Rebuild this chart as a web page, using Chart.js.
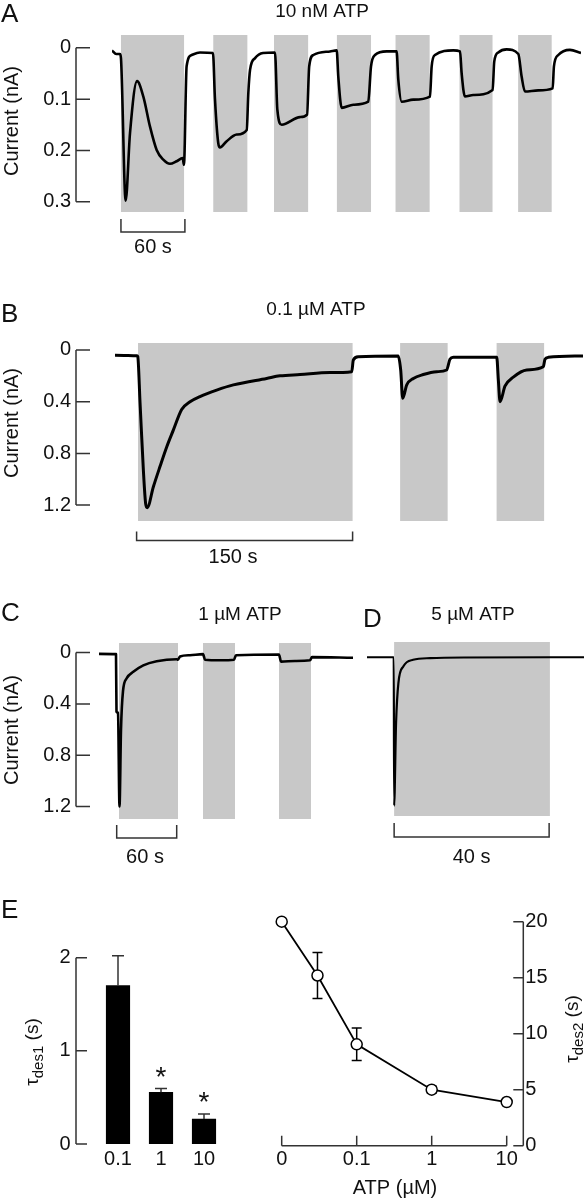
<!DOCTYPE html>
<html>
<head>
<meta charset="utf-8">
<script src="https://cdn.jsdelivr.net/npm/chart.js@4.4.1/dist/chart.umd.min.js"></script>
<style>
html, body { margin: 0; padding: 0; background: #fff; }
#fig { position: relative; width: 585px; height: 1199px; overflow: hidden; background: #fff; }
#fig canvas { position: absolute; display: block; }
</style>
</head>
<body>
<div id="fig">
  <canvas id="cA" width="585" height="265" style="left:0;top:0"></canvas>
  <canvas id="cB" width="585" height="310" style="left:0;top:265px"></canvas>
  <canvas id="cC" width="360" height="305" style="left:0;top:575px"></canvas>
  <canvas id="cD" width="225" height="305" style="left:360px;top:575px"></canvas>
  <canvas id="cE1" width="260" height="319" style="left:0;top:880px"></canvas>
  <canvas id="cE2" width="325" height="319" style="left:260px;top:880px"></canvas>
</div>
<script>
// ---- A: 10 nM ATP (time in s, current in nA, inward drawn downward)
const tA = [0, 4, 7.5, 8.4, 12.8, 16.9, 23.5, 29.4, 35.6, 41.9, 48.1, 54.4, 60.7, 66.3, 67.5,
  70, 74.8, 82.5, 94.7, 96.6, 99.7, 101.3, 107.6, 117, 126.4, 127.9, 129.5, 134.2, 141.7, 152.9,
  155.1, 159.2, 176.4, 183, 185, 188.9, 204.5, 210.8, 212.3, 215.5, 226.4, 240.4, 243, 246.7, 257.7,
  267, 268.6, 271.8, 282.6, 298.3, 299.9, 303, 320.2, 326.5, 328, 331.1, 338.9, 357.1, 358.6, 362.4,
  370.3, 381.2, 384.3, 387.4, 399.9, 413.4, 414.6, 418.7, 429.6, 440];
const iA = [0.005, 0.012, 0.012, 0.02, 0.298, 0.166, 0.065, 0.095, 0.153, 0.199, 0.218, 0.226, 0.221, 0.215, 0.228,
  0.036, 0.014, 0.009, 0.01, 0.1, 0.186, 0.194, 0.182, 0.169, 0.16, 0.088, 0.043, 0.02, 0.01, 0.009,
  0.12, 0.15, 0.135, 0.13, 0.036, 0.014, 0.007, 0.005, 0.056, 0.117, 0.111, 0.105, 0.036, 0.014, 0.007,
  0.007, 0.062, 0.105, 0.101, 0.095, 0.036, 0.014, 0.005, 0.007, 0.049, 0.095, 0.092, 0.082, 0.027, 0.009,
  0.003, 0.012, 0.056, 0.085, 0.083, 0.079, 0.036, 0.014, 0.004, 0.01];
const appA = [[8.4, 67.6], [95, 127], [152, 184], [211, 243], [266, 298], [326, 357], [381, 412.5]];
const ticksA = [0, 0.1, 0.2, 0.3];
const tickLabelsA = ['0', '0.1', '0.2', '0.3'];

// ---- B: 0.1 uM ATP
const tB = [0, 15.3, 15.8, 17.4, 19.7, 21.3, 22.4, 26.6, 31.3, 35.9, 40.5, 46.3, 52.1, 59, 70.6,
  82.2, 105.3, 114.6, 128.5, 149.3, 164.4, 165.5, 169, 196.7, 198.4, 199.8, 202.6, 207.2, 214.1, 223.4,
  230.3, 232.6, 235, 265.1, 266.2, 267.4, 270.8, 276.6, 285.9, 297.4, 298.6, 300.9, 325];
const iB = [0.04, 0.045, 0.05, 0.41, 0.93, 1.19, 1.22, 1.06, 0.9, 0.75, 0.62, 0.46, 0.4, 0.36, 0.31,
  0.27, 0.22, 0.2, 0.19, 0.175, 0.168, 0.077, 0.052, 0.046, 0.155, 0.374, 0.27, 0.22, 0.19, 0.168,
  0.155, 0.072, 0.057, 0.057, 0.23, 0.4, 0.28, 0.21, 0.155, 0.13, 0.072, 0.057, 0.046];
const appB = [[16, 165], [198, 231], [265, 298]];
const ticksBC = [0, 0.4, 0.8, 1.2];
const tickLabelsBC = ['0', '0.4', '0.8', '1.2'];

// ---- C: 1 uM ATP
const tC = [0, 17, 17.5, 19, 20.5, 22, 24, 27.7, 34.3, 44.3, 57.7, 77.7, 79, 81, 91, 104, 106, 121, 135, 137,
  180, 182, 196, 211, 213, 254];
const iC = [0.01, 0.012, 0.46, 0.47, 1.2, 0.6, 0.3, 0.2, 0.15, 0.1, 0.068, 0.052, 0.055, 0.03, 0.02, 0.012, 0.055, 0.06, 0.055, 0.02,
  0.015, 0.07, 0.065, 0.06, 0.035, 0.04];
const appC = [[20, 79], [104, 136], [180, 212]];

// ---- D: 5 uM ATP
const tD = [0, 6.9, 7.0, 7.5, 8.1, 9.4, 11.9, 16.3, 25, 56];
const iD = [0.04, 0.04, 1.19, 0.55, 0.24, 0.11, 0.06, 0.047, 0.042, 0.04];
const appD = [[7, 47.2]];

// ---- E left: tau des1 (s)
const doses = ['0.1', '1', '10'];
const tau1 = [1.7, 0.555, 0.268];
const tau1Err = [0.32, 0.04, 0.054];
const tau1Star = [false, true, true];
const ticksE1 = [0, 1, 2];

// ---- E right: tau des2 (s) vs ATP (uM); 0 uM is placed at 0.01 on the log axis
const conc = [0, 0.03, 0.1, 1, 10];
const tau2 = [20, 15.2, 9.05, 5.0, 3.9];
const tau2Err = [0, 2.05, 1.45, 0.3, 0];
const ZERO_AT = 0.01;
const concTicks = [0, 0.1, 1, 10];
const concTickLabels = ['0', '0.1', '1', '10'];
const ticksE2 = [0, 5, 10, 15, 20];

const FONT = '"Liberation Sans", Arial, Helvetica, sans-serif';
const SHADE = '#c8c8c8';
const AXIS = '#333';
const TICK_FS = 20;

function txt(ctx, s, x, y, size, align, base) {
  ctx.font = size + 'px ' + FONT;
  ctx.textAlign = align || 'center';
  ctx.textBaseline = base || 'middle';
  ctx.fillStyle = '#111';
  ctx.fillText(s, x, y);
}

// rotated (-90deg) axis title made of pieces, subscripts pushed down
function vTitle(ctx, parts, cx, cy) {
  ctx.save();
  ctx.translate(cx, cy);
  ctx.rotate(-Math.PI / 2);
  let w = 0;
  parts.forEach(p => { ctx.font = p.size + 'px ' + FONT; w += ctx.measureText(p.t).width; });
  let x = -w / 2;
  ctx.textAlign = 'left';
  ctx.textBaseline = 'alphabetic';
  ctx.fillStyle = '#111';
  parts.forEach(p => {
    ctx.font = p.size + 'px ' + FONT;
    ctx.fillText(p.t, x, 7 + (p.sub ? 5 : 0));
    x += ctx.measureText(p.t).width;
  });
  ctx.restore();
}

function tracePanel(cfg) {
  return {
    id: 'tracePanel',
    beforeDatasetsDraw(chart) {
      const { ctx, chartArea: a, scales: { x } } = chart;
      ctx.save();
      ctx.fillStyle = SHADE;
      cfg.apps.forEach(([s, e]) => {
        const x0 = x.getPixelForValue(s), x1 = x.getPixelForValue(e);
        ctx.fillRect(x0, a.top, x1 - x0, a.bottom - a.top);
      });
      ctx.restore();
    },
    afterDraw(chart) {
      const { ctx, scales: { x, y } } = chart;
      ctx.save();
      ctx.strokeStyle = AXIS;
      ctx.lineWidth = 1.5;
      if (cfg.ticks) {
        const ax = cfg.axisX;
        ctx.beginPath();
        ctx.moveTo(ax, y.getPixelForValue(cfg.ticks[0]));
        ctx.lineTo(ax, y.getPixelForValue(cfg.ticks[cfg.ticks.length - 1]));
        cfg.ticks.forEach(v => {
          const py = y.getPixelForValue(v);
          ctx.moveTo(ax, py);
          ctx.lineTo(ax + 14, py);
        });
        ctx.stroke();
        cfg.ticks.forEach((v, i) => txt(ctx, cfg.tickLabels[i], ax - 5, y.getPixelForValue(v), TICK_FS, 'right'));
        vTitle(ctx, [{ t: 'Current (nA)', size: 20 }], 11, cfg.yTitleY);
      }
      // time scale bar
      const sb = cfg.bar;
      const b0 = x.getPixelForValue(sb.start), b1 = x.getPixelForValue(sb.start + sb.len);
      ctx.beginPath();
      ctx.moveTo(b0, sb.y - sb.h);
      ctx.lineTo(b0, sb.y);
      ctx.lineTo(b1, sb.y);
      ctx.lineTo(b1, sb.y - sb.h);
      ctx.stroke();
      txt(ctx, sb.len + ' s', x.getPixelForValue(sb.labelAt), sb.labelY, TICK_FS);
      txt(ctx, cfg.letter, cfg.letterX, cfg.letterY, 26, 'left');
      txt(ctx, cfg.title, cfg.titleX, cfg.titleY, 19);
      ctx.restore();
    }
  };
}

function traceChart(id, t, cur, lw, pad, xr, yr, cfg) {
  return new Chart(document.getElementById(id), {
    type: 'line',
    data: {
      datasets: [{
        data: t.map((v, i) => ({ x: v, y: cur[i] })),
        borderColor: '#000',
        borderWidth: lw,
        pointRadius: 0,
        cubicInterpolationMode: 'monotone',
        borderJoinStyle: 'round'
      }]
    },
    options: {
      responsive: false,
      animation: false,
      events: [],
      layout: { padding: pad },
      plugins: { legend: { display: false }, tooltip: { enabled: false } },
      scales: {
        x: { type: 'linear', display: false, min: xr[0], max: xr[1] },
        y: { type: 'linear', display: false, reverse: true, min: yr[0], max: yr[1] }
      }
    },
    plugins: [tracePanel(cfg)]
  });
}

traceChart('cA', tA, iA, 2.6, { left: 112, right: 4, top: 35, bottom: 53 }, [0, 440], [-0.025, 0.32], {
  apps: appA, ticks: ticksA, tickLabels: tickLabelsA, axisX: 76, yTitleY: 121,
  bar: { start: 8.4, len: 60, y: 232, h: 13, labelAt: 38.4, labelY: 247 },
  letter: 'A', letterX: 1, letterY: 15, title: '10 nM ATP', titleX: 322, titleY: 12
});

traceChart('cB', tB, iB, 3, { left: 115, right: 2, top: 78, bottom: 54 }, [0, 325], [-0.054, 1.323], {
  apps: appB, ticks: ticksBC, tickLabels: tickLabelsBC, axisX: 76, yTitleY: 158,
  bar: { start: 15, len: 150, y: 275.5, h: 9, labelAt: 82, labelY: 292 },
  letter: 'B', letterX: 1, letterY: 50, title: '0.1 \u00b5M ATP', titleX: 316, titleY: 45
});

traceChart('cC', tC, iC, 2.6, { left: 99, right: 7, top: 68, bottom: 61 }, [0, 254], [-0.075, 1.297], {
  apps: appC, ticks: ticksBC, tickLabels: tickLabelsBC, axisX: 76, yTitleY: 155,
  bar: { start: 17.7, len: 60, y: 263, h: 13, labelAt: 46, labelY: 282 },
  letter: 'C', letterX: 1, letterY: 39, title: '1 \u00b5M ATP', titleX: 240, titleY: 40
});

traceChart('cD', tD, iD, 2.2, { left: 7, right: 1, top: 67, bottom: 64 }, [0, 56], [-0.078, 1.27], {
  apps: appD, ticks: null,
  bar: { start: 7, len: 40, y: 262, h: 14, labelAt: 27, labelY: 282 },
  letter: 'D', letterX: 3, letterY: 45, title: '5 \u00b5M ATP', titleX: 113, titleY: 40
});

// ---- E left: bars with SEM and significance stars
const barDeco = {
  id: 'barDeco',
  afterDraw(chart) {
    const { ctx, scales: { x, y } } = chart;
    ctx.save();
    ctx.strokeStyle = AXIS;
    ctx.lineWidth = 1.5;
    ctx.beginPath();
    tau1.forEach((v, i) => {
      const px = x.getPixelForValue(i);
      const pt = y.getPixelForValue(v), pe = y.getPixelForValue(v + tau1Err[i]);
      ctx.moveTo(px, pt); ctx.lineTo(px, pe);
      ctx.moveTo(px - 6, pe); ctx.lineTo(px + 6, pe);
    });
    // y axis, ticks pointing inward
    ctx.moveTo(76, y.getPixelForValue(0));
    ctx.lineTo(76, y.getPixelForValue(2));
    ticksE1.forEach(v => { const py = y.getPixelForValue(v); ctx.moveTo(76, py); ctx.lineTo(87, py); });
    ctx.stroke();
    ticksE1.forEach(v => txt(ctx, String(v), 70.5, y.getPixelForValue(v), TICK_FS, 'right'));
    tau1.forEach((v, i) => {
      const px = x.getPixelForValue(i);
      txt(ctx, doses[i], px, 279, TICK_FS);
      if (tau1Star[i]) {
        const pe = y.getPixelForValue(v + tau1Err[i]);
        txt(ctx, '*', px, pe - 3, 28, 'center', 'alphabetic');
      }
    });
    vTitle(ctx, [{ t: '\u03c4', size: 19 }, { t: 'des1', size: 15, sub: true }, { t: ' (s)', size: 19 }], 31, 172);
    txt(ctx, 'E', 1, 31, 26, 'left');
    ctx.restore();
  }
};

new Chart(document.getElementById('cE1'), {
  type: 'bar',
  data: { labels: doses, datasets: [{ data: tau1, backgroundColor: '#000', barThickness: 23.5 }] },
  options: {
    responsive: false,
    animation: false,
    events: [],
    layout: { padding: { left: 96.5, right: 34.5, top: 77.7, bottom: 55 } },
    plugins: { legend: { display: false }, tooltip: { enabled: false } },
    scales: { x: { display: false }, y: { display: false, min: 0, max: 2 } }
  },
  plugins: [barDeco]
});

// ---- E right: tau des2 vs concentration
const lineDeco = {
  id: 'lineDeco',
  beforeDatasetsDraw(chart) {
    const { ctx, scales: { x, y } } = chart;
    ctx.save();
    ctx.strokeStyle = '#000';
    ctx.lineWidth = 1.5;
    ctx.beginPath();
    conc.forEach((c, i) => {
      if (!tau2Err[i]) return;
      const px = x.getPixelForValue(c === 0 ? ZERO_AT : c);
      const hi = y.getPixelForValue(tau2[i] + tau2Err[i]), lo = y.getPixelForValue(tau2[i] - tau2Err[i]);
      ctx.moveTo(px, hi); ctx.lineTo(px, lo);
      ctx.moveTo(px - 5, hi); ctx.lineTo(px + 5, hi);
      ctx.moveTo(px - 5, lo); ctx.lineTo(px + 5, lo);
    });
    ctx.stroke();
    ctx.restore();
  },
  afterDraw(chart) {
    const { ctx, chartArea: a, scales: { x, y } } = chart;
    ctx.save();
    ctx.strokeStyle = AXIS;
    ctx.lineWidth = 1.5;
    const y0 = y.getPixelForValue(0);
    const xs = concTicks.map(c => x.getPixelForValue(c === 0 ? ZERO_AT : c));
    ctx.beginPath();
    ctx.moveTo(xs[0], y0);
    ctx.lineTo(xs[xs.length - 1], y0);
    xs.forEach(px => { ctx.moveTo(px, y0); ctx.lineTo(px, y0 - 10); });
    const ax = a.right + 16.6;
    ctx.moveTo(ax, y.getPixelForValue(0));
    ctx.lineTo(ax, y.getPixelForValue(20));
    ticksE2.forEach(v => { const py = y.getPixelForValue(v); ctx.moveTo(ax, py); ctx.lineTo(ax - 10, py); });
    ctx.stroke();
    xs.forEach((px, i) => txt(ctx, concTickLabels[i], px, 279, TICK_FS));
    ticksE2.forEach(v => txt(ctx, String(v), ax + 2, y.getPixelForValue(v), TICK_FS, 'left'));
    txt(ctx, 'ATP (\u00b5M)', 135, 308, 20);
    vTitle(ctx, [{ t: '\u03c4', size: 19 }, { t: 'des2', size: 15, sub: true }, { t: ' (s)', size: 19 }], 311, 149);
    ctx.restore();
  }
};

new Chart(document.getElementById('cE2'), {
  type: 'line',
  data: {
    datasets: [{
      data: conc.map((c, i) => ({ x: c === 0 ? ZERO_AT : c, y: tau2[i] })),
      borderColor: '#000',
      borderWidth: 1.8,
      pointRadius: 5.5,
      pointBackgroundColor: '#fff',
      pointBorderColor: '#000',
      pointBorderWidth: 1.5,
      tension: 0,
      clip: false
    }]
  },
  options: {
    responsive: false,
    animation: false,
    events: [],
    layout: { padding: { left: 21.7, right: 78.3, top: 41.7, bottom: 53.3 } },
    plugins: { legend: { display: false }, tooltip: { enabled: false } },
    scales: {
      x: { type: 'logarithmic', display: false, min: 0.01, max: 10 },
      y: { type: 'linear', display: false, min: 0, max: 20 }
    }
  },
  plugins: [lineDeco]
});
</script>
</body>
</html>
